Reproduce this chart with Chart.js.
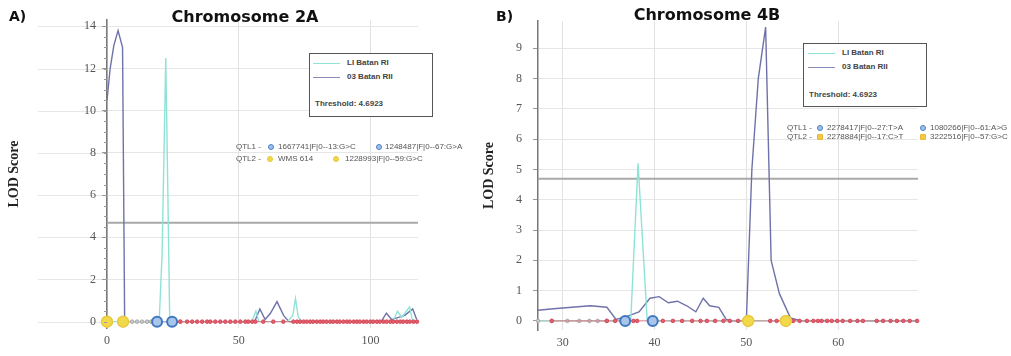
<!DOCTYPE html>
<html>
<head>
<meta charset="utf-8">
<script src="https://cdn.jsdelivr.net/npm/chart.js@4.4.1/dist/chart.umd.min.js"></script>
<style>
html,body{margin:0;padding:0;background:#fff;width:1011px;height:356px;overflow:hidden;font-family:"Liberation Sans",Arial,sans-serif;}
canvas{position:absolute;top:0;}
.ov{position:absolute;white-space:nowrap;z-index:5;}
.panel-tag{font-family:"DejaVu Sans",sans-serif;font-weight:bold;font-size:14px;color:#111;}
.title{font-family:"DejaVu Sans",sans-serif;font-weight:bold;font-size:16px;color:#111;text-align:center;width:220px;}
.lbox{position:absolute;box-sizing:border-box;border:1.5px solid #555;background:#fff;z-index:5;width:124px;height:64px;}
.lbox .smp{position:absolute;height:0;width:27px;border-top:1.5px solid;}
.lbox .t{position:absolute;font-size:8px;font-weight:bold;color:#444;line-height:10px;white-space:nowrap;}
.q{position:absolute;font-size:8px;color:#555;line-height:10px;white-space:nowrap;z-index:5;}
.ic{position:absolute;width:6px;height:6px;border-radius:50%;box-sizing:border-box;z-index:5;}
.ic.b{background:#9fc0ea;border:1.5px solid #4a7fc6;}
.ic.y{background:#f2d94a;border:1px solid #e6c43a;}
.ic.ys{background:#f4c94a;border:1px solid #e8b830;border-radius:1px;}
</style>
</head>
<body>
<canvas id="cA" width="480" height="356" style="left:0px"></canvas>
<canvas id="cB" width="541" height="356" style="left:470px"></canvas>

<div class="ov panel-tag" style="left:9px;top:8px">A)</div>
<div class="ov title" style="left:135px;top:7px">Chromosome 2A</div>
<div class="ov panel-tag" style="left:496px;top:8px">B)</div>
<div class="ov title" style="left:597px;top:5px">Chromosome 4B</div>

<div class="lbox" style="left:309px;top:53px">
  <div class="smp" style="left:3px;top:9px;border-color:#8fe3d6"></div><div class="t" style="left:37px;top:4px">LI Batan RI</div>
  <div class="smp" style="left:3px;top:23px;border-color:#8a8db8"></div><div class="t" style="left:37px;top:18px">03 Batan RII</div>
  <div class="t" style="left:5px;top:45px">Threshold: 4.6923</div>
</div>
<div class="lbox" style="left:803px;top:43px">
  <div class="smp" style="left:4px;top:9px;border-color:#8fe3d6"></div><div class="t" style="left:38px;top:4px">LI Batan RI</div>
  <div class="smp" style="left:4px;top:23px;border-color:#8a8db8"></div><div class="t" style="left:38px;top:18px">03 Batan RII</div>
  <div class="t" style="left:5px;top:46px">Threshold: 4.6923</div>
</div>

<!-- QTL legend A -->
<div class="q" style="left:236px;top:142px">QTL1 -</div>
<div class="ic b" style="left:268px;top:144px"></div>
<div class="q" style="left:278px;top:142px">1667741|F|0--13:G&gt;C</div>
<div class="ic b" style="left:376px;top:144px"></div>
<div class="q" style="left:385px;top:142px">1248487|F|0--67:G&gt;A</div>
<div class="q" style="left:236px;top:154px">QTL2 -</div>
<div class="ic y" style="left:267px;top:156px"></div>
<div class="q" style="left:278px;top:154px">WMS 614</div>
<div class="ic y" style="left:333px;top:156px"></div>
<div class="q" style="left:345px;top:154px">1228993|F|0--59:G&gt;C</div>

<!-- QTL legend B -->
<div class="q" style="left:787px;top:123px">QTL1 -</div>
<div class="ic b" style="left:817px;top:125px"></div>
<div class="q" style="left:827px;top:123px">2278417|F|0--27:T&gt;A</div>
<div class="ic b" style="left:920px;top:125px"></div>
<div class="q" style="left:930px;top:123px">1080266|F|0--61:A&gt;G</div>
<div class="q" style="left:787px;top:132px">QTL2 -</div>
<div class="ic ys" style="left:817px;top:134px"></div>
<div class="q" style="left:827px;top:132px">2278884|F|0--17:C&gt;T</div>
<div class="ic ys" style="left:920px;top:134px"></div>
<div class="q" style="left:930px;top:132px">3222516|F|0--57:G&gt;C</div>

<script>
// ---------- DATA ----------
const THRESHOLD = 4.6923;

// Chromosome 2A
const A_xTicks = [0, 50, 100];
const A_yTicks = [0, 2, 4, 6, 8, 10, 12, 14];
const A_RI_pos  = [0, 19.8, 20.9, 22.3, 23.1, 23.8, 55.0, 56.5, 57.6, 68.5, 70.5, 71.5, 72.6, 74.0, 108.5, 110.2, 111.8, 114.8, 116.0, 118];
const A_RI_lod  = [0, 0,    3.2,  12.5, 6.0,  0,    0,    0.5,  0,    0,    0.3,  1.1,  0.2,  0,    0,     0.5,   0.2,   0.7,   0,     0];
const A_RII_pos = [0,    1.2,  2.6,  4.2,  5.9,  6.7, 20, 45, 56.0, 58.0, 60.0, 62.0, 64.5, 67.0, 69.0, 104.0, 106.0, 108.0, 113.0, 116.0, 117.5];
const A_RII_lod = [10.5, 12.0, 13.1, 13.8, 13.0, 0,   0,  0,  0,    0.6,  0.1,  0.4,  0.95, 0.3,  0,    0,     0.4,   0.1,   0.3,   0.6,   0.1];
const A_markers = [27.8, 30.4, 32.3, 34.2, 36.1, 38.0, 39.2, 41.1, 43.0, 44.9, 46.8, 48.7, 50.6, 52.5, 53.6, 55.1, 56.3, 59.3, 63.1, 66.9, 70.7, 72.1, 73.3, 74.6, 75.8, 77.1, 78.2, 79.6, 80.9, 82.0, 83.3, 84.7, 85.8, 87.2, 88.3, 89.7, 91.0, 92.1, 93.6, 94.8, 95.9, 97.3, 98.5, 99.9, 101.0, 102.4, 103.5, 104.9, 106.1, 107.5, 108.6, 110.0, 111.3, 112.4, 113.8, 114.9, 116.3, 117.6];
const A_grayMarkers = [6.1, 9.5, 11.4, 13.3, 15.2, 16.7, 19.0, 24.7, 27.8];
const A_qtl1 = [19.0, 24.7];
const A_qtl2 = [0, 6.1];

// Chromosome 4B
const B_xTicks = [30, 40, 50, 60];
const B_yTicks = [0, 1, 2, 3, 4, 5, 6, 7, 8, 9];
const B_RI_pos  = [27.3, 37.4, 38.2, 39.2, 68.7];
const B_RI_lod  = [0,    0,    5.2,  0,    0];
const B_RII_pos = [27.3, 29.0, 31.0, 33.0, 34.8, 35.8, 37.0, 38.3, 39.5, 40.5, 41.5, 42.5, 43.5, 44.5, 45.3, 46.0, 47.0, 47.8, 48.5, 50.0, 50.6, 51.3, 52.1, 52.7, 53.6, 54.8, 56.0, 68.7];
const B_RII_lod = [0.35, 0.4,  0.45, 0.5,  0.45, 0.05, 0.15, 0.3,  0.75, 0.8,  0.6,  0.65, 0.5,  0.3,  0.75, 0.5,  0.45, 0.05, 0,    0,    5.0,  8.0,  9.7,  2.0,  0.9,  0.1,  0,    0];
const B_markers = [28.8, 34.8, 35.7, 37.7, 38.1, 40.9, 42.0, 43.0, 44.1, 45.0, 45.7, 46.6, 47.5, 48.2, 49.1, 52.6, 53.3, 53.9, 55.1, 55.8, 56.6, 57.3, 57.8, 58.2, 58.8, 59.3, 59.9, 60.5, 61.3, 62.1, 62.7, 64.2, 64.9, 65.7, 66.4, 67.1, 67.8, 68.6];
const B_grayMarkers = [27.3, 28.8, 30.5, 31.8, 32.9, 33.8, 34.8];
const B_qtl1 = [36.8, 39.8];
const B_qtl2 = [50.2, 54.3];

// ---------- HELPERS ----------
const COL_RI = '#8fe3d6', COL_RII = '#6f72aa', COL_THR = '#a9a9a9';

function lineDs(xs, ys, color, w, order){
  return {type:'line', data: xs.map((x,i)=>({x:x, y:ys[i]})), borderColor: color, borderWidth: w,
          pointRadius: 0, tension: 0, fill:false, order: order};
}
function markDs(xs, fill, stroke, r, bw, lineColor, order, style){
  return {type:'scatter', data: xs.map(x=>({x:x, y:0})), showLine: !!lineColor,
          borderColor: lineColor || stroke, borderWidth: 1.2,
          pointBackgroundColor: fill, pointBorderColor: stroke, pointBorderWidth: bw,
          pointRadius: r, pointStyle: style || 'circle', clip: false, order: order};
}

const gridExtend = {
  id: 'gridExtend',
  beforeDraw(chart, args, opts){
    const y = chart.scales.y, ctx = chart.ctx, left = chart.chartArea.left;
    ctx.save();
    if (opts.from !== undefined){
      ctx.strokeStyle = opts.color; ctx.lineWidth = 1;
      y.ticks.forEach(t=>{
        const py = Math.round(y.getPixelForValue(t.value)) + 0.5;
        ctx.beginPath(); ctx.moveTo(opts.from, py); ctx.lineTo(left, py); ctx.stroke();
      });
    }
    ctx.restore();
  },
  afterDraw(chart, args, opts){
    if (!opts.minorStep) return;
    const y = chart.scales.y, ctx = chart.ctx, left = chart.chartArea.left;
    ctx.save(); ctx.strokeStyle = '#999'; ctx.lineWidth = 1;
    for (let v = 0; v <= y.max; v += opts.minorStep){
      const py = Math.round(y.getPixelForValue(v)) + 0.5;
      ctx.beginPath(); ctx.moveTo(left - 3, py); ctx.lineTo(left, py); ctx.stroke();
    }
    ctx.restore();
  }
};

function makeChart(id, c){
  return new Chart(document.getElementById(id), {
    type: 'scatter',
    data: {datasets: c.datasets},
    options: {
      responsive: false, animation: false, devicePixelRatio: 1,
      layout: {padding: {left: 0, top: c.top, right: c.right, bottom: 0}},
      plugins: {legend: {display: false}, tooltip: {enabled: false}, title: {display: false},
                gridExtend: c.ext},
      scales: {
        x: {type: 'linear', min: c.xmin, max: c.xmax,
            afterFit: s => { s.height = c.xh; },
            afterBuildTicks: s => { s.ticks = c.xt.map(v => ({value: v})); },
            grid: {color: '#e2e2e2', drawTicks: false},
            border: {display: false},
            ticks: {padding: 6, color: '#555', font: {family: 'Liberation Serif', size: 12}}},
        y: {type: 'linear', min: c.ymin, max: c.ymax,
            afterFit: s => { s.width = c.yw; },
            afterBuildTicks: s => { s.ticks = c.yt.map(v => ({value: v})); },
            grid: {color: '#e6e6e6', tickLength: 5, tickColor: '#999'},
            border: {display: true, color: '#777', width: 1.5},
            ticks: {padding: c.tp, color: '#555', font: {family: 'Liberation Serif', size: 12}},
            title: {display: true, text: 'LOD Score', color: '#222',
                    font: {family: 'Liberation Serif', size: 14, weight: 'bold'},
                    padding: {top: c.titlePad, bottom: 0}}}
      }
    },
    plugins: [gridExtend]
  });
}

function thrDs(xmin, xmax){
  return lineDs([xmin, xmax], [THRESHOLD, THRESHOLD], COL_THR, 2, 5);
}

makeChart('cA', {
  top: 20, right: 62, xh: 28, yw: 107, tp: 6, titlePad: 6,
  xmin: 0, xmax: 118, ymin: -0.3, ymax: 14.3, xt: A_xTicks, yt: A_yTicks,
  ext: {from: 38, color: '#e6e6e6', minorStep: 0.5},
  datasets: [
    markDs(A_qtl2, '#f2d94a', '#e8c840', 5.5, 1.5, null, 0),
    markDs(A_qtl1, '#a9c6ea', '#3f78c0', 5, 2, null, 0),
    markDs(A_markers, '#e2606e', '#d44a5a', 1.8, 1, 'rgba(226,96,110,0.6)', 1),
    markDs(A_grayMarkers, '#c8c8c8', '#aaaaaa', 1.8, 1, 'rgba(190,190,190,0.8)', 2),
    lineDs(A_RI_pos, A_RI_lod, COL_RI, 1.4, 3),
    lineDs(A_RII_pos, A_RII_lod, COL_RII, 1.4, 4),
    thrDs(0, 118)
  ]
});

makeChart('cB', {
  top: 21, right: 93, xh: 26, yw: 68, tp: 11, titlePad: 11,
  xmin: 27.3, xmax: 68.7, ymin: -0.3, ymax: 9.9, xt: B_xTicks, yt: B_yTicks,
  ext: {},
  datasets: [
    markDs(B_qtl2, '#f2d94a', '#e8c840', 5.5, 1.5, null, 0),
    markDs(B_qtl1, '#a9c6ea', '#3f78c0', 5, 2, null, 0),
    markDs(B_markers, '#e2606e', '#d44a5a', 1.8, 1, 'rgba(226,96,110,0.6)', 1),
    markDs(B_grayMarkers, '#c8c8c8', '#aaaaaa', 1.8, 1, 'rgba(190,190,190,0.8)', 2),
    lineDs(B_RI_pos, B_RI_lod, COL_RI, 1.4, 3),
    lineDs(B_RII_pos, B_RII_lod, COL_RII, 1.4, 4),
    thrDs(27.3, 68.7)
  ]
});
</script>
</body>
</html>
